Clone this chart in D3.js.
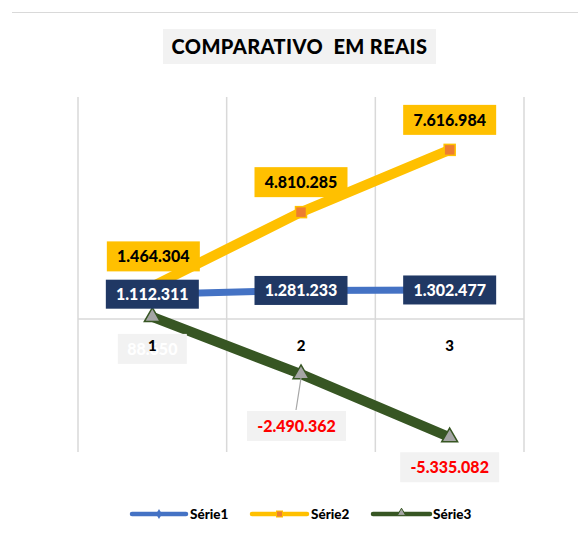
<!DOCTYPE html>
<html><head><meta charset="utf-8">
<script src="https://cdn.jsdelivr.net/npm/d3@7"></script>
<style>body{margin:0;background:#fff}svg{display:block}</style>
</head><body>
<svg id="c" width="578" height="544"></svg>
<script>
const categories = ["1","2","3"];
const serie1 = [1112311, 1281233, 1302477];
const serie2 = [1464304, 4810285, 7616984];
const serie3 = [88650, -2490362, -5335082];
const seriesNames = ["Série1","Série2","Série3"];
const labels1 = ["1.112.311","1.281.233","1.302.477"];
const labels2 = ["1.464.304","4.810.285","7.616.984"];
const labels3 = ["88.650","-2.490.362","-5.335.082"];
const titleText = "COMPARATIVO  EM REAIS";

const FONT = "Lato, 'Open Sans', sans-serif";
const svg = d3.select("#c");
const x = d3.scaleBand().domain(categories).range([78, 524]);
const y = d3.scaleLinear().domain([-6000000, 10000000]).range([452, 97]);
const cx = c => x(c) + x.bandwidth()/2;

// top border
svg.append("line").attr("x1",12).attr("x2",578).attr("y1",12.5).attr("y2",12.5).attr("stroke","#d9d9d9").attr("stroke-width",1);

// title
const tg = svg.append("g");
tg.append("rect").attr("x",163).attr("y",29).attr("width",273).attr("height",35).attr("fill","#f2f2f2");
tg.append("text").attr("x",299.5).attr("y",54).attr("text-anchor","middle").attr("font-family",FONT)
  .attr("font-weight","900").attr("font-size",20).attr("letter-spacing",0.4).attr("fill","#000").attr("xml:space","preserve").text(titleText);

// gridlines
const grid = svg.append("g");
const edges = [78].concat(categories.map(c => x(c)+x.bandwidth()));
edges.forEach(e => grid.append("line").attr("x1",e).attr("x2",e).attr("y1",y(10000000)).attr("y2",y(-6000000)).attr("stroke","#d9d9d9").attr("stroke-width",1.5));
grid.append("line").attr("x1",78).attr("x2",524).attr("y1",y(0)).attr("y2",y(0)).attr("stroke","#d9d9d9").attr("stroke-width",1.5);

const line = d3.line().x((d,i)=>cx(categories[i])).y(d=>y(d));

// Series 3
svg.append("path").attr("d",line(serie3)).attr("fill","none").attr("stroke","#375623").attr("stroke-width",10).attr("stroke-linejoin","round");
// Series 2
svg.append("path").attr("d",line(serie2)).attr("fill","none").attr("stroke","#ffc000").attr("stroke-width",10).attr("stroke-linejoin","round");
// Series 1
svg.append("path").attr("d",line(serie1)).attr("fill","none").attr("stroke","#4472c4").attr("stroke-width",7).attr("stroke-linejoin","round");

// markers
const tri = d3.symbol().type(d3.symbolTriangle).size(110);
svg.append("g").selectAll("path").data(serie3).join("path")
  .attr("transform",(d,i)=>`translate(${cx(categories[i])},${y(d)})`).attr("d",tri())
  .attr("fill","#a5a5a5").attr("stroke","#375623").attr("stroke-width",1.5);
svg.append("g").selectAll("rect").data(serie2).join("rect")
  .attr("x",(d,i)=>cx(categories[i])-5.5).attr("y",d=>y(d)-5.5).attr("width",11).attr("height",11)
  .attr("fill","#ed7d31").attr("stroke","#ffc000").attr("stroke-width",1.5);

// labels
function box(g, xc, yc, w, h, fill, text, color){
  g.append("rect").attr("x",xc-w/2).attr("y",yc-h/2).attr("width",w).attr("height",h).attr("fill",fill);
  g.append("text").attr("x",xc).attr("y",yc+6).attr("text-anchor","middle").attr("font-family",FONT)
    .attr("font-weight","900").attr("font-size",16).attr("fill",color).text(text);
}
const lg = svg.append("g");
lg.append("line").attr("x1",296).attr("y1",410).attr("x2",cx(categories[1])).attr("y2",y(serie3[1])+4).attr("stroke","#a6a6a6").attr("stroke-width",1.2);
box(lg, cx(categories[0]), y(serie3[0])+32, 69, 30, "#f2f2f2", labels3[0], "#ffffff");
box(lg, 296.5, 426, 99, 30, "#f2f2f2", labels3[1], "#ff0000");
box(lg, cx(categories[2]), y(serie3[2])+30, 99, 30, "#f2f2f2", labels3[2], "#ff0000");
serie2.forEach((v,i)=>box(lg, cx(categories[i])+(i==0?1:0), y(v)-30, 93, 30, "#ffc000", labels2[i], "#000"));
serie1.forEach((v,i)=>box(lg, cx(categories[i]), y(v), 93, 29, "#203864", labels1[i], "#fff"));

// category labels (drawn on top, as in the reference)
svg.append("g").selectAll("text").data(categories).join("text")
  .attr("x",d=>cx(d)).attr("y",y(0)+32).attr("text-anchor","middle").attr("font-family",FONT)
  .attr("font-weight","900").attr("font-size",15).attr("fill","#000").text(d=>d);

// legend
const leg = svg.append("g");
const legItems = [
  {name:seriesNames[0], color:"#4472c4", x1:132, x2:186, tx:190, mk:"diamond"},
  {name:seriesNames[1], color:"#ffc000", x1:252, x2:307, tx:311, mk:"square"},
  {name:seriesNames[2], color:"#375623", x1:373, x2:430, tx:433, mk:"tri"}
];
const ly = 514;
legItems.forEach(it=>{
  leg.append("line").attr("x1",it.x1).attr("x2",it.x2).attr("y1",ly).attr("y2",ly).attr("stroke",it.color).attr("stroke-width",4.5).attr("stroke-linecap","round");
  const mx = (it.x1+it.x2)/2;
  if(it.mk==="diamond") leg.append("path").attr("transform",`translate(${mx},${ly})`).attr("d",d3.symbol().type(d3.symbolDiamond).size(30)()).attr("fill",it.color);
  if(it.mk==="square") leg.append("rect").attr("x",mx-3).attr("y",ly-3).attr("width",6).attr("height",6).attr("fill","#ed7d31").attr("stroke","#ffc000");
  if(it.mk==="tri") leg.append("path").attr("transform",`translate(${mx},${ly-1})`).attr("d",d3.symbol().type(d3.symbolTriangle).size(30)()).attr("fill","#a5a5a5").attr("stroke","#375623");
  leg.append("text").attr("x",it.tx).attr("y",ly+5).attr("font-family",FONT).attr("font-weight","900").attr("font-size",13.5).attr("fill","#000").text(it.name);
});
</script>
</body></html>
